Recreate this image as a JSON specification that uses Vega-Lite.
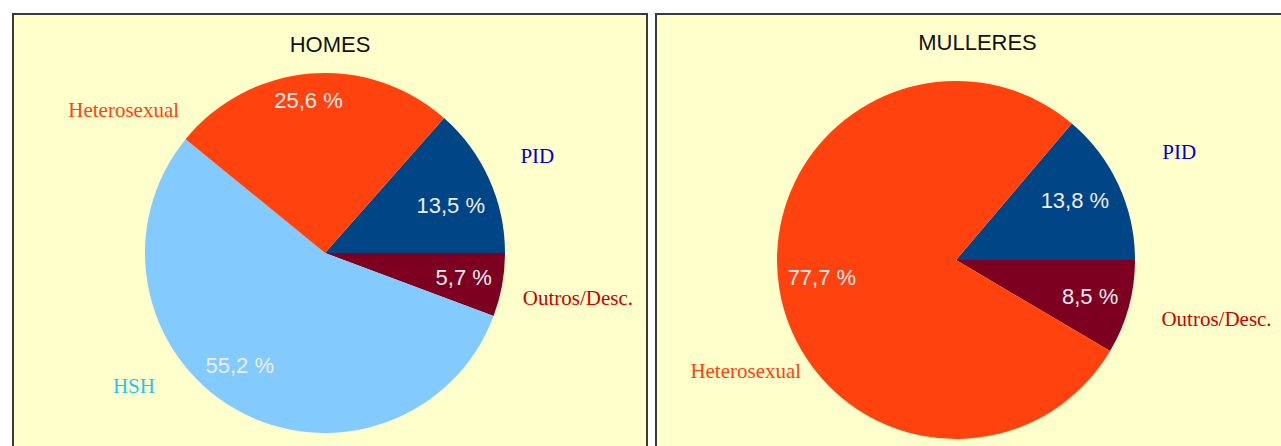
{
  "$schema": "https://vega.github.io/schema/vega-lite/v6.json",
  "padding": {"left": 12, "top": 13, "right": 0, "bottom": 0},
  "background": "#ffffff",
  "config": {
    "view": {"fill": "#ffffcc", "stroke": "#3a3a3a", "strokeWidth": 2},
    "style": {"cell": {"fill": "#ffffcc", "stroke": "#3a3a3a", "strokeWidth": 2}},
    "title": {"font": "Liberation Sans", "fontSize": 22, "fontWeight": "normal", "color": "#111111", "anchor": "middle", "baseline": "alphabetic"}
  },
  "datasets": {
    "homes": [
      {"cat": "PID", "v": 13.5, "o": 1, "pct": "13,5 %"},
      {"cat": "Outros/Desc.", "v": 5.7, "o": 2, "pct": "5,7 %"},
      {"cat": "HSH", "v": 55.2, "o": 3, "pct": "55,2 %"},
      {"cat": "Heterosexual", "v": 25.6, "o": 4, "pct": "25,6 %"}
    ],
    "mulleres": [
      {"cat": "PID", "v": 13.8, "o": 1, "pct": "13,8 %"},
      {"cat": "Outros/Desc.", "v": 8.5, "o": 2, "pct": "8,5 %"},
      {"cat": "Heterosexual", "v": 77.7, "o": 3, "pct": "77,7 %"}
    ]
  },
  "spacing": 7,
  "hconcat": [
    {
      "width": 634,
      "height": 460,
      "view": {"fill": "#ffffcc", "stroke": "#3a3a3a", "strokeWidth": 2},
      "title": {"text": "HOMES", "offset": -43},
      "data": {"name": "homes"},
      "encoding": {
        "theta": {"field": "v", "type": "quantitative", "stack": true, "scale": {"range": [0.7226, 7.0058]}},
        "order": {"field": "o", "type": "quantitative"}
      },
      "layer": [
        {
          "mark": {"type": "arc", "outerRadius": 180, "x": 312, "y": 239},
          "encoding": {
            "color": {"field": "cat", "type": "nominal", "legend": null,
              "scale": {"domain": ["PID", "Outros/Desc.", "HSH", "Heterosexual"], "range": ["#004586", "#7e0021", "#83caff", "#ff420e"]}}
          }
        },
        {
          "mark": {"type": "text", "clip": true, "radius": 138, "x": 312, "y": 239, "dy": 10, "font": "Liberation Sans", "fontSize": 22, "fill": "#eeeeee"},
          "encoding": {"text": {"condition": {"test": "datum.cat === 'PID'", "field": "pct"}, "value": ""}}
        },
        {
          "mark": {"type": "text", "clip": true, "radius": 141, "x": 312, "y": 239, "font": "Liberation Sans", "fontSize": 22, "fill": "#eeeeee"},
          "encoding": {"text": {"condition": {"test": "datum.cat === 'Outros/Desc.'", "field": "pct"}, "value": ""}}
        },
        {
          "mark": {"type": "text", "clip": true, "radius": 141, "x": 312, "y": 239, "dx": -15, "dy": -9, "font": "Liberation Sans", "fontSize": 22, "fill": "#eeeeee"},
          "encoding": {"text": {"condition": {"test": "datum.cat === 'HSH'", "field": "pct"}, "value": ""}}
        },
        {
          "mark": {"type": "text", "clip": true, "radius": 153, "x": 312, "y": 239, "dx": -4, "font": "Liberation Sans", "fontSize": 22, "fill": "#eeeeee"},
          "encoding": {"text": {"condition": {"test": "datum.cat === 'Heterosexual'", "field": "pct"}, "value": ""}}
        },
        {
          "mark": {"type": "text", "clip": true, "radius": 233, "x": 312, "y": 239, "font": "Liberation Serif", "fontSize": 21, "fill": "#0000cc"},
          "encoding": {"text": {"condition": {"test": "datum.cat === 'PID'", "field": "cat"}, "value": ""}}
        },
        {
          "mark": {"type": "text", "clip": true, "radius": 257, "x": 312, "y": 239, "font": "Liberation Serif", "fontSize": 21, "fill": "#cc0000"},
          "encoding": {"text": {"condition": {"test": "datum.cat === 'Outros/Desc.'", "field": "cat"}, "value": ""}}
        },
        {
          "mark": {"type": "text", "clip": true, "radius": 233, "x": 312, "y": 239, "dx": -75, "dy": -68, "font": "Liberation Serif", "fontSize": 21, "fill": "#1ec8f5"},
          "encoding": {"text": {"condition": {"test": "datum.cat === 'HSH'", "field": "cat"}, "value": ""}}
        },
        {
          "mark": {"type": "text", "clip": true, "radius": 200, "x": 312, "y": 239, "dx": -185, "dy": 57, "font": "Liberation Serif", "fontSize": 21, "fill": "#ff420e"},
          "encoding": {"text": {"condition": {"test": "datum.cat === 'Heterosexual'", "field": "cat"}, "value": ""}}
        }
      ]
    },
    {
      "width": 643,
      "height": 460,
      "view": {"fill": "#ffffcc", "stroke": "#3a3a3a", "strokeWidth": 2},
      "title": {"text": "MULLERES", "offset": -41},
      "data": {"name": "mulleres"},
      "encoding": {
        "theta": {"field": "v", "type": "quantitative", "stack": true, "scale": {"range": [0.7037, 6.9869]}},
        "order": {"field": "o", "type": "quantitative"}
      },
      "layer": [
        {
          "mark": {"type": "arc", "outerRadius": 179, "x": 300, "y": 246},
          "encoding": {
            "color": {"field": "cat", "type": "nominal", "legend": null,
              "scale": {"domain": ["PID", "Outros/Desc.", "Heterosexual"], "range": ["#004586", "#7e0021", "#ff420e"]}}
          }
        },
        {
          "mark": {"type": "text", "clip": true, "radius": 131, "x": 300, "y": 246, "dy": -4, "font": "Liberation Sans", "fontSize": 22, "fill": "#eeeeee"},
          "encoding": {"text": {"condition": {"test": "datum.cat === 'PID'", "field": "pct"}, "value": ""}}
        },
        {
          "mark": {"type": "text", "clip": true, "radius": 139, "x": 300, "y": 246, "font": "Liberation Sans", "fontSize": 22, "fill": "#eeeeee"},
          "encoding": {"text": {"condition": {"test": "datum.cat === 'Outros/Desc.'", "field": "pct"}, "value": ""}}
        },
        {
          "mark": {"type": "text", "clip": true, "radius": 136, "x": 300, "y": 246, "dy": -5, "font": "Liberation Sans", "fontSize": 22, "fill": "#eeeeee"},
          "encoding": {"text": {"condition": {"test": "datum.cat === 'Heterosexual'", "field": "pct"}, "value": ""}}
        },
        {
          "mark": {"type": "text", "clip": true, "radius": 246, "x": 300, "y": 246, "dy": -4, "font": "Liberation Serif", "fontSize": 21, "fill": "#0000cc"},
          "encoding": {"text": {"condition": {"test": "datum.cat === 'PID'", "field": "cat"}, "value": ""}}
        },
        {
          "mark": {"type": "text", "clip": true, "radius": 268, "x": 300, "y": 246, "dx": 2, "dy": -11, "font": "Liberation Serif", "fontSize": 21, "fill": "#cc0000"},
          "encoding": {"text": {"condition": {"test": "datum.cat === 'Outros/Desc.'", "field": "cat"}, "value": ""}}
        },
        {
          "mark": {"type": "text", "clip": true, "radius": 200, "x": 300, "y": 246, "dx": -13, "dy": 79, "font": "Liberation Serif", "fontSize": 21, "fill": "#ff420e"},
          "encoding": {"text": {"condition": {"test": "datum.cat === 'Heterosexual'", "field": "cat"}, "value": ""}}
        }
      ]
    }
  ]
}
